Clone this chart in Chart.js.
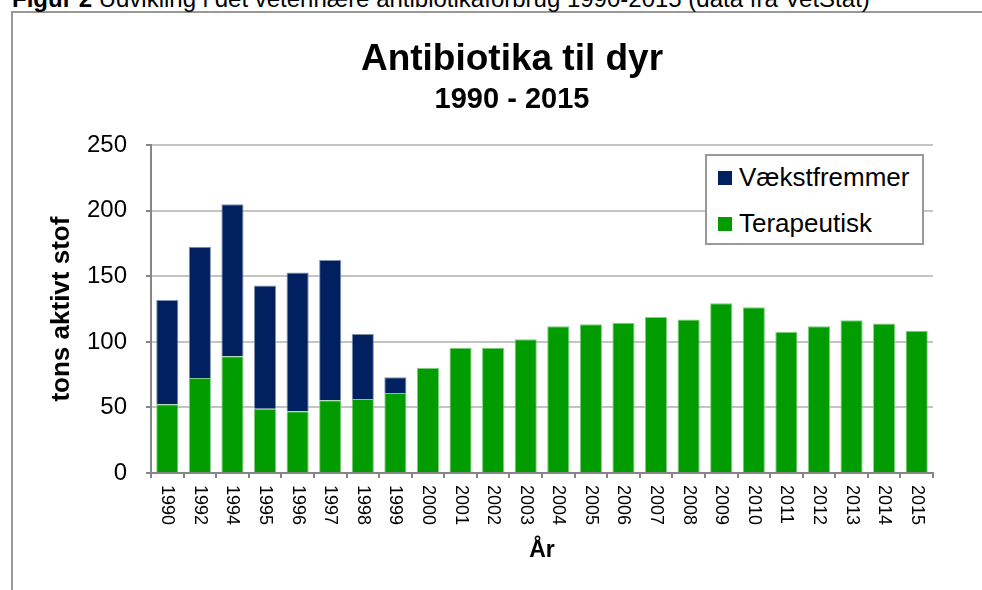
<!DOCTYPE html>
<html>
<head>
<meta charset="utf-8">
<script src="https://cdn.jsdelivr.net/npm/chart.js@4.4.0/dist/chart.umd.min.js"></script>
<style>
  body { margin: 0; background: #fff; overflow: hidden; font-family: "Liberation Sans", Arial, sans-serif; }
  #wrap { position: relative; width: 982px; height: 590px; overflow: hidden; }
  #caption { position: absolute; left: 12px; top: -15px; font-size: 24px; line-height: 28px; white-space: nowrap; color: #000; }
  #frame { position: absolute; left: 11px; top: 11px; width: 1000px; height: 600px; border-left: 2px solid #999; border-top: 2px solid #999; }
  #chart { position: absolute; left: 0; top: 0; }
  #legend { position: absolute; left: 705px; top: 154px; width: 215px; height: 87px; border: 2px solid #9a9a9a; background: #fff; }
  .item { position: absolute; left: 0; height: 30px; width: 210px; font-size: 26px; line-height: 30px; white-space: nowrap; }
  .item span.box { position: absolute; left: 11px; top: 9px; width: 14px; height: 14px; }
  .item span.txt { position: absolute; left: 32px; top: 0; }
</style>
</head>
<body>
<div id="wrap">
  <div id="frame"></div>
  <div id="caption"><b>Figur 2</b> Udvikling i det veterinære antibiotikaforbrug 1990-2015 (data fra VetStat)</div>
  <canvas id="chart" width="982" height="590"></canvas>
  <div id="legend"></div>
</div>
<script>
document.addEventListener('DOMContentLoaded', function () {
    const ctx = document.getElementById('chart').getContext('2d');

    // Years on the x axis (1991 and 1993 are missing in the source)
    const years = [
        '1990', '1992', '1994', '1995', '1996', '1997', '1998', '1999',
        '2000', '2001', '2002', '2003', '2004', '2005', '2006', '2007',
        '2008', '2009', '2010', '2011', '2012', '2013', '2014', '2015'
    ];

    // tons aktivt stof
    const terapeutisk = [
        52.5, 72.5, 89, 49, 47, 55.5, 56.5, 61,
        80, 95.5, 95.5, 102, 112, 113.5, 114.5, 119,
        117, 129.5, 126.5, 107.5, 112, 116.5, 114, 108.5
    ];
    const vaekstfremmer = [
        79.5, 100, 116, 94, 106, 107, 49.5, 12,
        null, null, null, null, null, null, null, null,
        null, null, null, null, null, null, null, null
    ];

    const yTicks = [0, 50, 100, 150, 200, 250];

    const fontFamily = '"Liberation Sans", Arial, sans-serif';
    Chart.defaults.font.family = fontFamily;
    Chart.defaults.color = '#000';

    const axisGrey = '#868686';

    // Rotated year labels, reading top to bottom like the original
    const xLabels = {
        id: 'xLabels',
        afterDraw(chart) {
            const c = chart.ctx;
            const xs = chart.scales.x;
            c.save();
            c.font = '18px ' + fontFamily;
            c.fillStyle = '#000';
            c.textAlign = 'left';
            c.textBaseline = 'middle';
            years.forEach(function (y, i) {
                c.save();
                c.translate(xs.getPixelForTick(i), xs.top + 12);
                c.rotate(Math.PI / 2);
                c.fillText(y, 0, 0);
                c.restore();
            });
            c.restore();
        }
    };

    const chart = new Chart(ctx, {
        type: 'bar',
        data: {
            labels: years,
            datasets: [{
                label: 'Terapeutisk',
                data: terapeutisk,
                backgroundColor: '#009c00',
                borderColor: '#7fcd7f',
                borderWidth: 1,
                barPercentage: 0.68,
                categoryPercentage: 1
            }, {
                label: 'Vækstfremmer',
                data: vaekstfremmer,
                backgroundColor: '#002060',
                borderColor: '#8090b0',
                borderWidth: 1,
                barPercentage: 0.68,
                categoryPercentage: 1
            }]
        },
        options: {
            responsive: false,
            animation: false,
            layout: { padding: { left: 42, right: 0, top: 38, bottom: 0 } },
            plugins: {
                legend: { display: false },
                tooltip: { enabled: false },
                title: {
                    display: true,
                    text: 'Antibiotika til dyr',
                    font: { size: 37, weight: 'bold' },
                    padding: { top: 0, bottom: 0 }
                },
                subtitle: {
                    display: true,
                    text: '1990 - 2015',
                    color: '#000',
                    font: { size: 29, weight: 'bold' },
                    padding: { top: 0, bottom: 28 }
                }
            },
            scales: {
                x: {
                    stacked: true,
                    grid: { offset: true, drawOnChartArea: false, tickLength: 5, tickColor: axisGrey, lineWidth: 2 },
                    border: { color: axisGrey, width: 2 },
                    ticks: { display: false, autoSkip: false },
                    title: {
                        display: true,
                        text: 'År',
                        font: { size: 23, weight: 'bold' },
                        padding: { top: 0, bottom: 26 }
                    },
                    afterFit: function (s) { s.height = 117; }
                },
                y: {
                    stacked: true,
                    min: 0,
                    max: 250,
                    afterBuildTicks: function (s) { s.ticks = yTicks.map(function (v) { return { value: v }; }); },
                    grid: { color: '#c4c4c4', lineWidth: 2, tickLength: 5, tickColor: axisGrey },
                    border: { color: axisGrey, width: 2 },
                    ticks: { font: { size: 24 }, padding: 19 },
                    title: {
                        display: true,
                        text: 'tons aktivt stof',
                        font: { size: 26, weight: 'bold' },
                        padding: { top: 4, bottom: 0 }
                    },
                    afterFit: function (s) { s.width = 109; }
                },
                // empty right axis, only keeps the plot clear of the right edge
                yRight: {
                    position: 'right',
                    display: true,
                    grid: { display: false },
                    border: { display: false },
                    ticks: { display: false },
                    afterFit: function (s) { s.width = 49; }
                }
            }
        },
        plugins: [xLabels]
    });

    // Legend box, top entry = top of the stack
    const legend = document.getElementById('legend');
    chart.data.datasets.slice().reverse().forEach(function (ds, i) {
        const row = document.createElement('div');
        row.className = 'item';
        row.style.top = (6 + i * 46) + 'px';
        row.innerHTML = '<span class="box" style="background:' + ds.backgroundColor + '"></span>' +
            '<span class="txt">' + ds.label + '</span>';
        legend.appendChild(row);
    });
});
</script>
</body>
</html>
